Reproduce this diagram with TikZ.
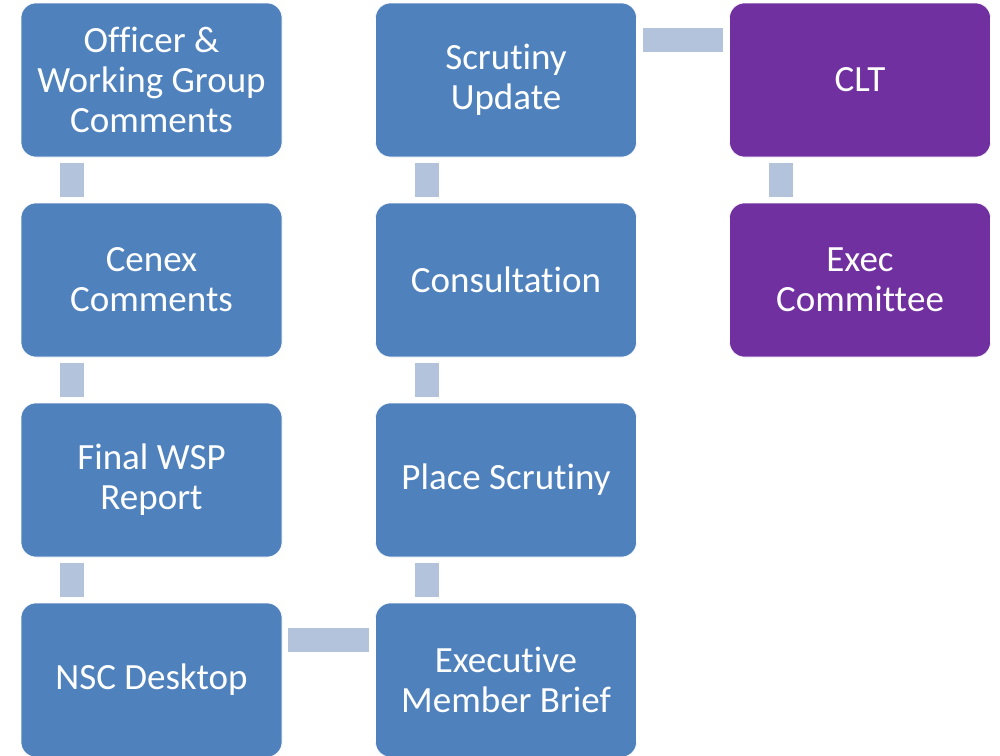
\documentclass[tikz,border=0pt]{standalone}
\usepackage{fontspec}
\setmainfont[Ligatures={NoCommon}]{Carlito}
\newcommand{\nl}{\kern0pt\relax}
\definecolor{boxblue}{HTML}{4F81BD}
\definecolor{boxpurple}{HTML}{7030A0}
\definecolor{connblue}{HTML}{B3C3DC}
\begin{document}
\begin{tikzpicture}[x=1pt,y=-1pt,
  stepbox/.style={rectangle, rounded corners=15pt, minimum width=261pt, minimum height=154pt,
    draw=white, line width=0.6pt, fill=boxblue, text=white, align=center,
    font=\fontsize{37}{40}\selectfont, inner sep=0pt},
  purplebox/.style={stepbox, fill=boxpurple},
  conn/.style={draw=connblue, line width=24pt, line cap=butt, shorten <=6pt, shorten >=6pt}]
\useasboundingbox (0,0) rectangle (1000,755);
\fill[white] (0,0) rectangle (1000,755);
% column 1
\node[stepbox] (a1) at (151.5,80) {Officer \&\\Working Group\\Comments};
\node[stepbox] (a2) at (151.5,280) {Cenex\\Comments};
\node[stepbox] (a3) at (151.5,480) {Final WSP\\Report};
\node[stepbox] (a4) at (151.5,680) {NSC Desktop};
% column 2
\node[stepbox] (b4) at (506,680) {Executive\\Member Brief};
\node[stepbox] (b3) at (506,480) {Place Scrut\nl iny};
\node[stepbox] (b2) at (506,280) {Consultat\nl ion};
\node[stepbox] (b1) at (506,80) {Scrut\nl iny\\Update};
% column 3
\node[purplebox] (c1) at (860,80) {CLT};
\node[purplebox] (c2) at (860,280) {Exec\\Committ\nl ee};
% connectors
\draw[conn] ([xshift=-79.5pt]a1.south) -- ([xshift=-79.5pt]a2.north);
\draw[conn] ([xshift=-79.5pt]a2.south) -- ([xshift=-79.5pt]a3.north);
\draw[conn] ([xshift=-79.5pt]a3.south) -- ([xshift=-79.5pt]a4.north);
\draw[conn] ([yshift=40pt]a4.east) -- ([yshift=40pt]b4.west);
\draw[conn] ([xshift=-79pt]b4.north) -- ([xshift=-79pt]b3.south);
\draw[conn] ([xshift=-79pt]b3.north) -- ([xshift=-79pt]b2.south);
\draw[conn] ([xshift=-79pt]b2.north) -- ([xshift=-79pt]b1.south);
\draw[conn] ([yshift=40pt]b1.east) -- ([yshift=40pt]c1.west);
\draw[conn] ([xshift=-79pt]c1.south) -- ([xshift=-79pt]c2.north);
\end{tikzpicture}
\end{document}
